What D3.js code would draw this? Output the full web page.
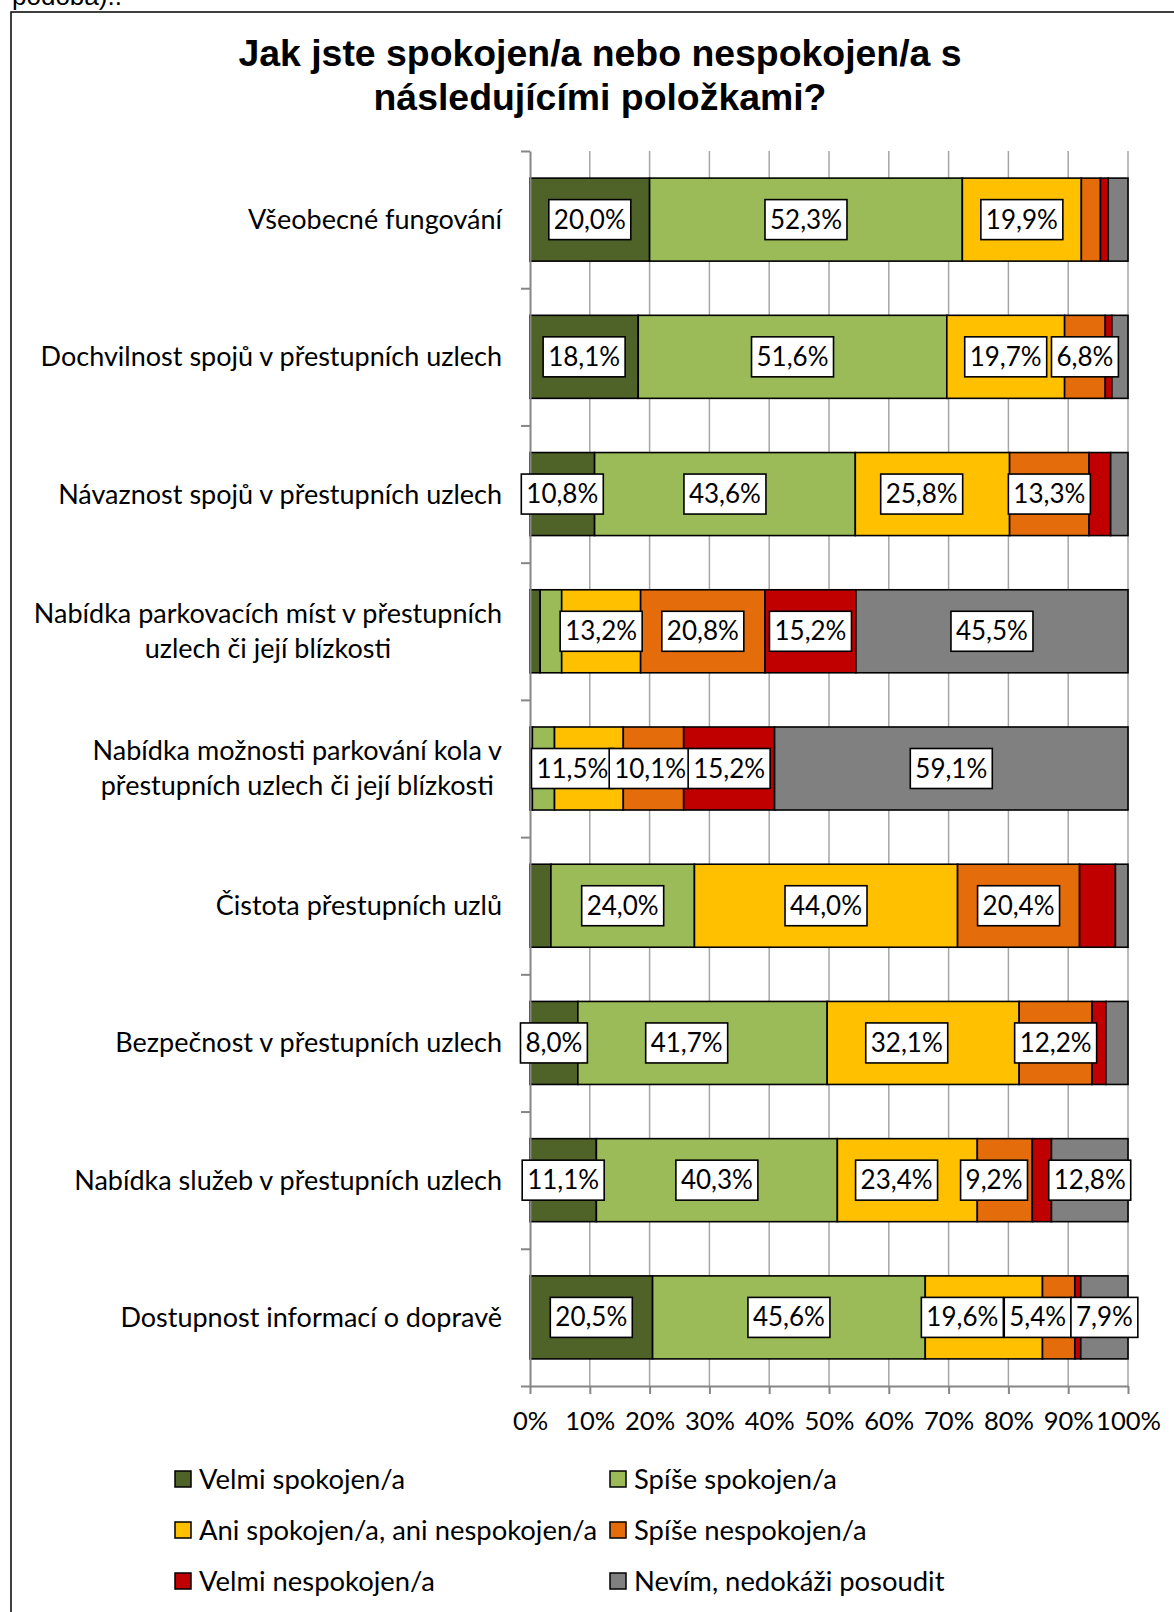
<!DOCTYPE html>
<html>
<head>
<meta charset="utf-8">
<script src="https://cdn.jsdelivr.net/npm/d3@7"></script>
<style>
  html, body { margin: 0; padding: 0; background: #ffffff; }
  svg { display: block; }
  .lbl { font-family: Lato, "Open Sans", sans-serif; fill: #000; }
</style>
</head>
<body>
<svg id="chart" width="1174" height="1612"></svg>
<script>
// ---------------- DATA ----------------
const categories = [
  "Všeobecné fungování",
  "Dochvilnost spojů v přestupních uzlech",
  "Návaznost spojů v přestupních uzlech",
  "Nabídka parkovacích míst v přestupních\nuzlech či její blízkosti",
  "Nabídka možnosti parkování kola v\npřestupních uzlech či její blízkosti",
  "Čistota přestupních uzlů",
  "Bezpečnost v přestupních uzlech",
  "Nabídka služeb v přestupních uzlech",
  "Dostupnost informací o dopravě"
];

const seriesNames = [
  "Velmi spokojen/a",
  "Spíše spokojen/a",
  "Ani spokojen/a, ani nespokojen/a",
  "Spíše nespokojen/a",
  "Velmi nespokojen/a",
  "Nevím, nedokáži posoudit"
];

const velmiSpokojen   = [20.0, 18.1, 10.8,  1.7,  0.4,  3.5,  8.0, 11.1, 20.5];
const spiseSpokojen   = [52.3, 51.6, 43.6,  3.6,  3.7, 24.0, 41.7, 40.3, 45.6];
const aniAni          = [19.9, 19.7, 25.8, 13.2, 11.5, 44.0, 32.1, 23.4, 19.6];
const spiseNespokojen = [ 3.2,  6.8, 13.3, 20.8, 10.1, 20.4, 12.2,  9.2,  5.4];
const velmiNespokojen = [ 1.3,  1.1,  3.6, 15.2, 15.2,  6.0,  2.3,  3.2,  1.0];
const nevim           = [ 3.3,  2.7,  2.9, 45.5, 59.1,  2.1,  3.7, 12.8,  7.9];

// which data labels are displayed (1 = shown), per series, per category
const showVelmiSpokojen   = [1, 1, 1, 0, 0, 0, 1, 1, 1];
const showSpiseSpokojen   = [1, 1, 1, 0, 0, 1, 1, 1, 1];
const showAni             = [1, 1, 1, 1, 1, 1, 1, 1, 1];
const showSpiseNespokojen = [0, 1, 1, 1, 1, 1, 1, 1, 1];
const showVelmiNespokojen = [0, 0, 0, 1, 1, 0, 0, 0, 0];
const showNevim           = [0, 0, 0, 1, 1, 0, 0, 1, 1];

// label nudges in percentage points (labels moved in the original to avoid overlaps)
const nudgeSpiseSpokojen   = [0, 0, 0, 0, 0, 0, -2.65, 0, 0];
const nudgeAni             = [0, 0, -1.8, 0, -2.75, 0, -2.75, -1.8, -3.6];
const nudgeSpiseNespokojen = [0, 0, 0, 0, -0.55, 0, 0, -1.8, -3.5];

const xTicks = [0, 10, 20, 30, 40, 50, 60, 70, 80, 90, 100];
const xTickLabels = ["0%", "10%", "20%", "30%", "40%", "50%", "60%", "70%", "80%", "90%", "100%"];

const titleLines = ["Jak jste spokojen/a nebo nespokojen/a s", "následujícími položkami?"];

// ---------------- STYLE ----------------
const colors = ["#4F6228", "#9BBB59", "#FFC000", "#E46C0A", "#C00000", "#808080"];
const FONT = 27;

// ---------------- BUILD ----------------
const seriesValues = [velmiSpokojen, spiseSpokojen, aniAni, spiseNespokojen, velmiNespokojen, nevim];
const seriesShow = [showVelmiSpokojen, showSpiseSpokojen, showAni, showSpiseNespokojen, showVelmiNespokojen, showNevim];
const zeros = categories.map(() => 0);
const seriesNudge = [zeros, nudgeSpiseSpokojen, nudgeAni, nudgeSpiseNespokojen, zeros, zeros];
const keys = seriesNames;

const table = categories.map((c, i) => {
  const row = { cat: c };
  keys.forEach((k, s) => row[k] = seriesValues[s][i]);
  return row;
});

const svg = d3.select("#chart");

// page text above the chart frame (partially cut in the original too)
svg.append("text")
  .attr("x", 12).attr("y", 5)
  .attr("font-family", "'Liberation Sans', Arial, sans-serif")
  .attr("font-size", 26)
  .text("podoba)..");

// chart frame
svg.append("rect")
  .attr("x", 11).attr("y", 12)
  .attr("width", 1300).attr("height", 1700)
  .attr("fill", "#fff").attr("stroke", "#000").attr("stroke-width", 1.5);

// title
svg.append("g").selectAll("text").data(titleLines).join("text")
  .attr("x", 600)
  .attr("y", (d, i) => 66 + i * 44)
  .attr("text-anchor", "middle")
  .attr("font-family", "'Liberation Sans', Arial, sans-serif")
  .attr("font-weight", "bold")
  .attr("font-size", 37.4)
  .attr("fill", "#000")
  .text(d => d);

const x = d3.scaleLinear().domain([0, 100]).range([530, 1128]);
const plotTop = 151, plotBottom = 1386;
const y = d3.scaleBand().domain(categories).range([plotTop, plotBottom])
  .paddingInner(0.395).paddingOuter(0.1975);
const yEdge = d3.scaleLinear().domain([0, categories.length]).range([plotTop, plotBottom]);

// gridlines
svg.append("g").selectAll("line").data(xTicks.filter(t => t > 0)).join("line")
  .attr("x1", d => x(d)).attr("x2", d => x(d))
  .attr("y1", plotTop).attr("y2", plotBottom)
  .attr("stroke", "#a6a6a6").attr("stroke-width", 1.5);

// stacked bars
const stacked = d3.stack().keys(keys)(table);
const layers = svg.append("g").selectAll("g").data(stacked).join("g")
  .attr("fill", (d, i) => colors[i]);
layers.selectAll("rect").data(d => d).join("rect")
  .attr("x", d => x(d[0]))
  .attr("y", d => y(d.data.cat))
  .attr("width", d => x(d[1]) - x(d[0]))
  .attr("height", y.bandwidth())
  .attr("stroke", "#000")
  .attr("stroke-width", 1.6);

// x axis
const xAxis = svg.append("g")
  .attr("transform", `translate(0,${plotBottom})`)
  .call(d3.axisBottom(x).tickValues(xTicks).tickSize(8).tickSizeOuter(0)
    .tickFormat((d, i) => xTickLabels[i]));
xAxis.select(".domain").attr("stroke", "#868686").attr("stroke-width", 2);
xAxis.selectAll(".tick line").attr("stroke", "#868686").attr("stroke-width", 2);
xAxis.selectAll(".tick text")
  .attr("class", "lbl")
  .attr("font-size", 25.5)
  .attr("y", 35)
  .attr("dy", "0.35em")
  .attr("font-family", "Lato, sans-serif");

// y axis (ticks between categories)
const yAxis = svg.append("g")
  .attr("transform", `translate(${x(0)},0)`)
  .call(d3.axisLeft(yEdge).tickValues(d3.range(categories.length + 1)).tickSize(9)
    .tickSizeOuter(0).tickFormat(""));
yAxis.select(".domain").attr("stroke", "#868686").attr("stroke-width", 2);
yAxis.selectAll(".tick line").attr("stroke", "#868686").attr("stroke-width", 2);

// category labels
const labelRight = 502;
const lineGap = 35;
categories.forEach(c => {
  const lines = c.split("\n");
  const cy = y(c) + y.bandwidth() / 2;
  const g = svg.append("g");
  const texts = lines.map((ln, i) => g.append("text")
    .attr("class", "lbl")
    .attr("font-size", FONT)
    .attr("x", labelRight)
    .attr("y", cy + (i - (lines.length - 1) / 2) * lineGap)
    .attr("dy", "0.35em")
    .attr("text-anchor", "end")
    .text(ln));
  if (lines.length > 1) {
    const maxW = d3.max(texts, t => t.node().getComputedTextLength());
    texts.forEach(t => t.attr("text-anchor", "middle").attr("x", labelRight - maxW / 2));
  }
});

// data labels
const fmt = v => v.toFixed(1).replace(".", ",") + "%";
const labG = svg.append("g");
stacked.forEach((layer, s) => {
  layer.forEach((d, i) => {
    if (!seriesShow[s][i]) return;
    const cxv = (d[0] + d[1]) / 2 + seriesNudge[s][i];
    const cx = x(cxv);
    const cy = y(d.data.cat) + y.bandwidth() / 2;
    const g = labG.append("g");
    const r = g.append("rect");
    const t = g.append("text")
      .attr("class", "lbl")
      .attr("font-size", 26)
      .attr("x", cx).attr("y", cy)
      .attr("dy", "0.35em")
      .attr("text-anchor", "middle")
      .text(fmt(d[1] - d[0]));
    const w = t.node().getComputedTextLength() + 10;
    const h = 40;
    r.attr("x", cx - w / 2).attr("y", cy - h / 2)
      .attr("width", w).attr("height", h)
      .attr("fill", "#fff").attr("stroke", "#000").attr("stroke-width", 1.6);
  });
});

// legend
const legendCols = [175, 610];
const legendRows = [1479, 1530, 1581];
const leg = svg.append("g").selectAll("g").data(seriesNames).join("g")
  .attr("transform", (d, i) => `translate(${legendCols[i % 2]},${legendRows[Math.floor(i / 2)]})`);
leg.append("rect")
  .attr("x", 0).attr("y", -8).attr("width", 16).attr("height", 16)
  .attr("fill", (d, i) => colors[i])
  .attr("stroke", "#000").attr("stroke-width", 1.5);
leg.append("text")
  .attr("class", "lbl")
  .attr("font-size", 27.4)
  .attr("x", 24).attr("y", 0).attr("dy", "0.35em")
  .text(d => d);
</script>
</body>
</html>
